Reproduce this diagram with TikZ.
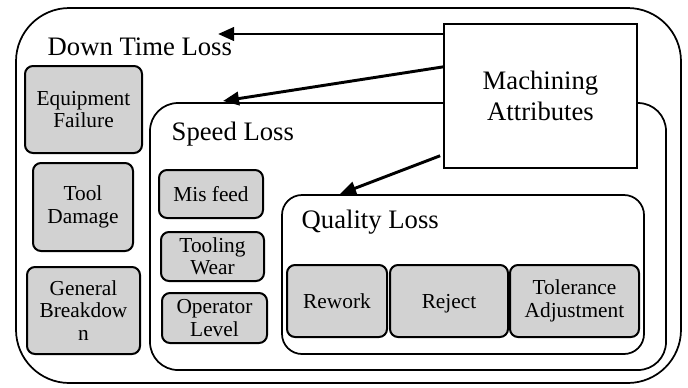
\documentclass[tikz,border=0pt]{standalone}
\usepackage{fontspec}
\setmainfont{Liberation Serif}
\usetikzlibrary{arrows.meta,calc}

\begin{document}
\begin{tikzpicture}[x=0.75pt,y=-0.75pt,
  big/.style={font=\fontsize{20}{23.5}\selectfont},
  lossbox/.style={draw,line width=1.3pt,rounded corners=#1,inner sep=0pt,outer sep=0pt},
  cause/.style={draw,line width=1.5pt,rounded corners=6pt,fill=gray!35,inner sep=0pt,
    align=center,font=\fontsize{16}{16.8}\selectfont},
  link/.style={-{Triangle[length=12pt,width=10pt]},line width=2.2pt}]
  \useasboundingbox (0,0) rectangle (688,387);

  % --- containers ---
  \node[lossbox=40pt,minimum width=498.75pt,minimum height=281.25pt] (dtl) at (348.5,195.5) {};
  \node[lossbox=21pt,minimum width=387pt,minimum height=200.25pt] (spl) at (408,236.5) {};
  \node[lossbox=15pt,minimum width=271.5pt,minimum height=119.25pt] (qul) at (463,274.5) {};
  \node[big,anchor=base west] (dtlLabel) at (43,55) {Down Time Loss};
  \node[big,anchor=base west] (splLabel) at (167,140) {Speed Loss};
  \node[big,anchor=base west] (qulLabel) at (297,228) {Quality Loss};

  % --- machining attributes ---
  \node[draw,line width=1.3pt,fill=white,big,align=center,minimum width=144.75pt,
    minimum height=108pt,inner sep=0pt] (ma) at (540.5,96) {Machining\\Attributes};

  % --- down time causes ---
  \node[cause,minimum width=87.75pt,minimum height=65.25pt] (ef) at (83.5,109.5) {Equipment\\Failure};
  \node[cause,minimum width=75pt,minimum height=66pt] (td) at (83,207) {Tool\\Damage};
  \node[cause,minimum width=84.75pt,minimum height=65.25pt] (gb) at (83.5,310.5) {General\\Breakdow\\n};

  % --- speed causes ---
  \node[cause,minimum width=78pt,minimum height=36pt] (mf) at (211,194) {Mis feed};
  \node[cause,minimum width=77.25pt,minimum height=36.75pt] (tw) at (212.5,256.5) {Tooling\\Wear};
  \node[cause,minimum width=78.75pt,minimum height=37.5pt] (ol) at (214.5,318) {Operator\\Level};

  % --- quality causes ---
  \node[cause,minimum width=75pt,minimum height=54pt] (rw) at (337,301) {Rework};
  \node[cause,minimum width=88.5pt,minimum height=54pt,text depth=0pt] (rj) at (449,301) {Reject};
  \node[cause,minimum width=96.75pt,minimum height=54pt] (ta) at (574.5,301) {Tolerance\\Adjustment};

  % --- arrows ---
  \coordinate (dtTip) at (218,34);
  \coordinate (slTip) at (223,101);
  \coordinate (qlTip) at (340,194);
  \draw[link] (ma.west |- dtTip) -- (dtTip);
  \draw[link] ($(ma.north west)!0.3!(ma.south west)$) -- (slTip);
  \draw[link] ($(ma.north west)!0.91!(ma.south west)+(-3,0)$) -- (qlTip);
\end{tikzpicture}
\end{document}
